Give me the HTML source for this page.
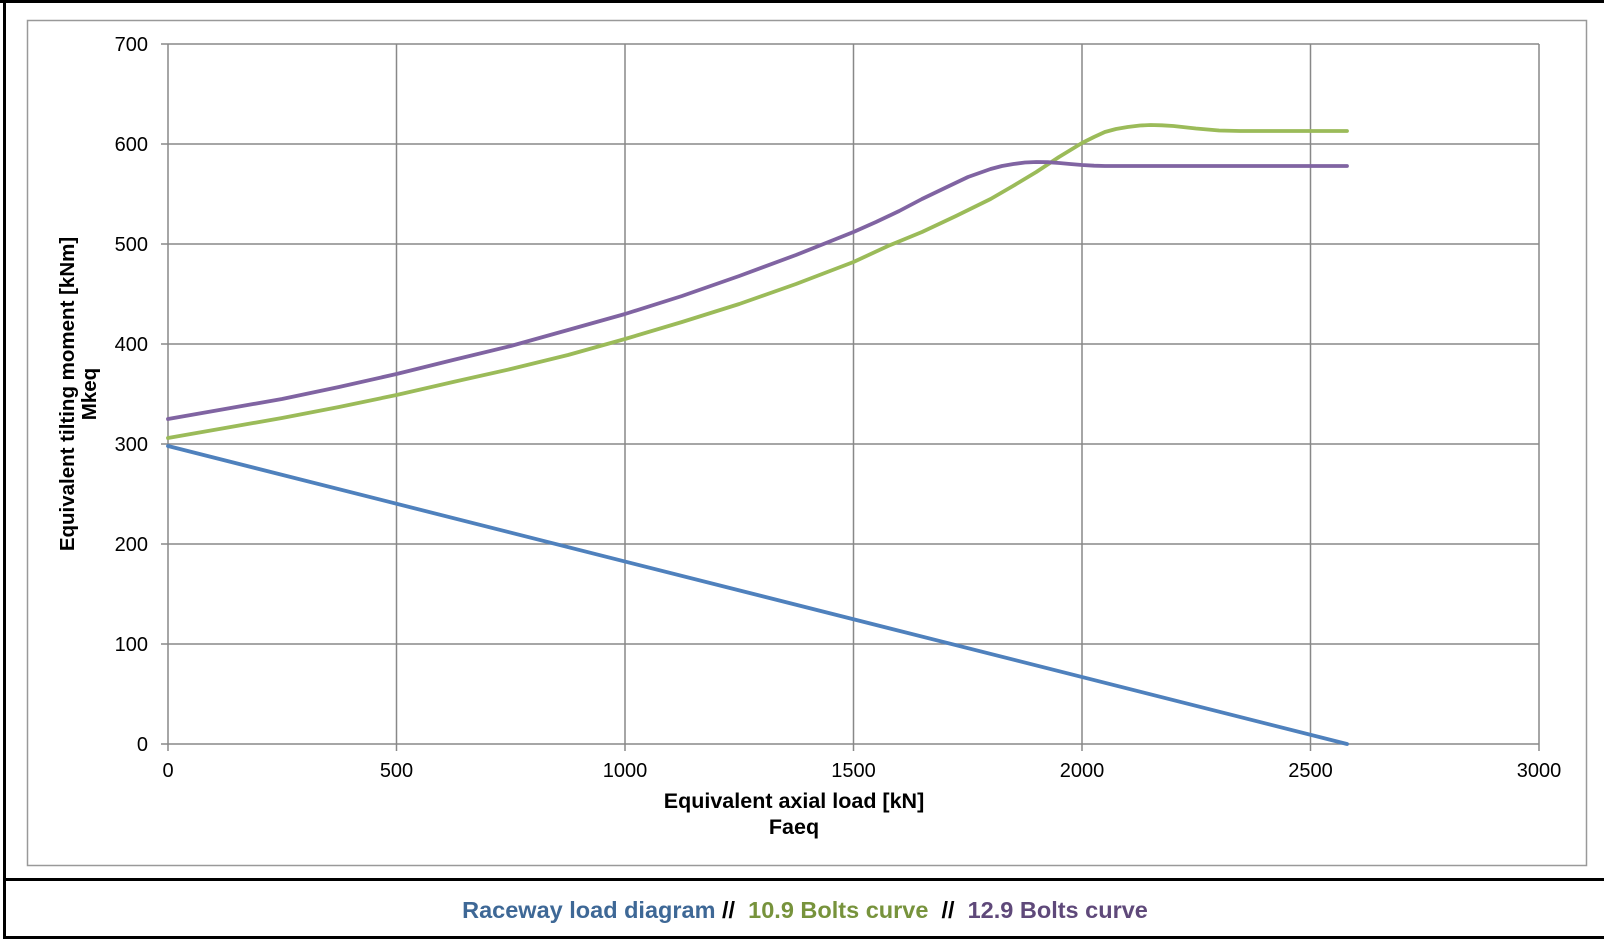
<!DOCTYPE html>
<html><head><meta charset="utf-8"><style>
html,body{margin:0;padding:0;background:#fff;}
svg{display:block;font-family:"Liberation Sans",Arial,sans-serif;}
</style></head><body>
<svg width="1604" height="939" viewBox="0 0 1604 939" xmlns="http://www.w3.org/2000/svg">
<rect x="0" y="0" width="1604" height="939" fill="#fff"/>
<rect x="0" y="0" width="1604" height="3" fill="#000"/>
<rect x="3" y="0" width="3" height="939" fill="#000"/>
<rect x="3" y="936" width="1601" height="3" fill="#000"/>
<rect x="3" y="878" width="1601" height="3" fill="#000"/>
<rect x="27.5" y="20.5" width="1559" height="845" fill="none" stroke="#999" stroke-width="1.5"/>
<g stroke="#888" stroke-width="1.5">
<line x1="168" y1="44" x2="1539" y2="44"/>
<line x1="168" y1="144" x2="1539" y2="144"/>
<line x1="168" y1="244" x2="1539" y2="244"/>
<line x1="168" y1="344" x2="1539" y2="344"/>
<line x1="168" y1="444" x2="1539" y2="444"/>
<line x1="168" y1="544" x2="1539" y2="544"/>
<line x1="168" y1="644" x2="1539" y2="644"/>
<line x1="161" y1="744" x2="1539" y2="744"/>
<line x1="161" y1="44" x2="168" y2="44"/><line x1="161" y1="144" x2="168" y2="144"/><line x1="161" y1="244" x2="168" y2="244"/><line x1="161" y1="344" x2="168" y2="344"/><line x1="161" y1="444" x2="168" y2="444"/><line x1="161" y1="544" x2="168" y2="544"/><line x1="161" y1="644" x2="168" y2="644"/>
<line x1="168" y1="44" x2="168" y2="751"/>
<line x1="396.5" y1="44" x2="396.5" y2="751"/>
<line x1="625" y1="44" x2="625" y2="751"/>
<line x1="853.5" y1="44" x2="853.5" y2="751"/>
<line x1="1082" y1="44" x2="1082" y2="751"/>
<line x1="1310.5" y1="44" x2="1310.5" y2="751"/>
<line x1="1539" y1="44" x2="1539" y2="751"/>
</g>
<g font-size="20" fill="#000" text-anchor="end">
<text x="148" y="51">700</text><text x="148" y="151">600</text><text x="148" y="251">500</text><text x="148" y="351">400</text><text x="148" y="451">300</text><text x="148" y="551">200</text><text x="148" y="651">100</text><text x="148" y="751">0</text>
</g>
<g font-size="20" fill="#000" text-anchor="middle">
<text x="168" y="777">0</text><text x="396.5" y="777">500</text><text x="625" y="777">1000</text><text x="853.5" y="777">1500</text><text x="1082" y="777">2000</text><text x="1310.5" y="777">2500</text><text x="1539" y="777">3000</text>
</g>
<g font-size="21.5" font-weight="bold" fill="#000" text-anchor="middle">
<text x="794" y="808">Equivalent axial load [kN]</text>
<text x="794" y="834">Faeq</text>
<text transform="translate(74,394) rotate(-90)" font-size="20.5">Equivalent tilting moment [kNm]</text>
<text transform="translate(96,394) rotate(-90)" font-size="20.5">Mkeq</text>
</g>
<g fill="none" stroke-width="3.8" stroke-linejoin="round" stroke-linecap="round">
<polyline stroke="#4F81BD" points="168,446 1347,744"/>
<polyline stroke="#9BBB59" points="168,438 225,428 282,418 339,407 396.5,395 453,382 510.75,369 568,355 625,339 682,322 739.25,304 796,284 853.5,262 888,246 922,232 956,216 990.6,199 1013,186 1036.3,172 1059,157 1082,143 1094,137 1104.85,132 1116,129 1127.7,127 1140,125.5 1150.55,125 1162,125.3 1173.4,126 1196,128.5 1219.1,130.5 1240,131 1347,131"/>
<polyline stroke="#8064A2" points="168,419 225,409 282,399 339,387 396.5,374 453,360 510.75,346 568,330 625,314 682,296 739.25,276 796,255 853.5,232 876,222 899.2,211 922,199 944.9,188 968,177 990.6,169 1002,166 1013.45,164 1025,162.5 1036.3,162 1048,162.2 1059.15,163 1070,164 1082,165 1094,165.7 1104.85,166 1347,166"/>
</g>
<text x="805" y="918" font-size="23.5" font-weight="bold" text-anchor="middle" xml:space="preserve"><tspan fill="#3E6896">Raceway load diagram</tspan><tspan fill="#000"> //  </tspan><tspan fill="#77933C">10.9 Bolts curve</tspan><tspan fill="#000">  //  </tspan><tspan fill="#5F497A">12.9 Bolts curve</tspan></text>
</svg>
</body></html>
